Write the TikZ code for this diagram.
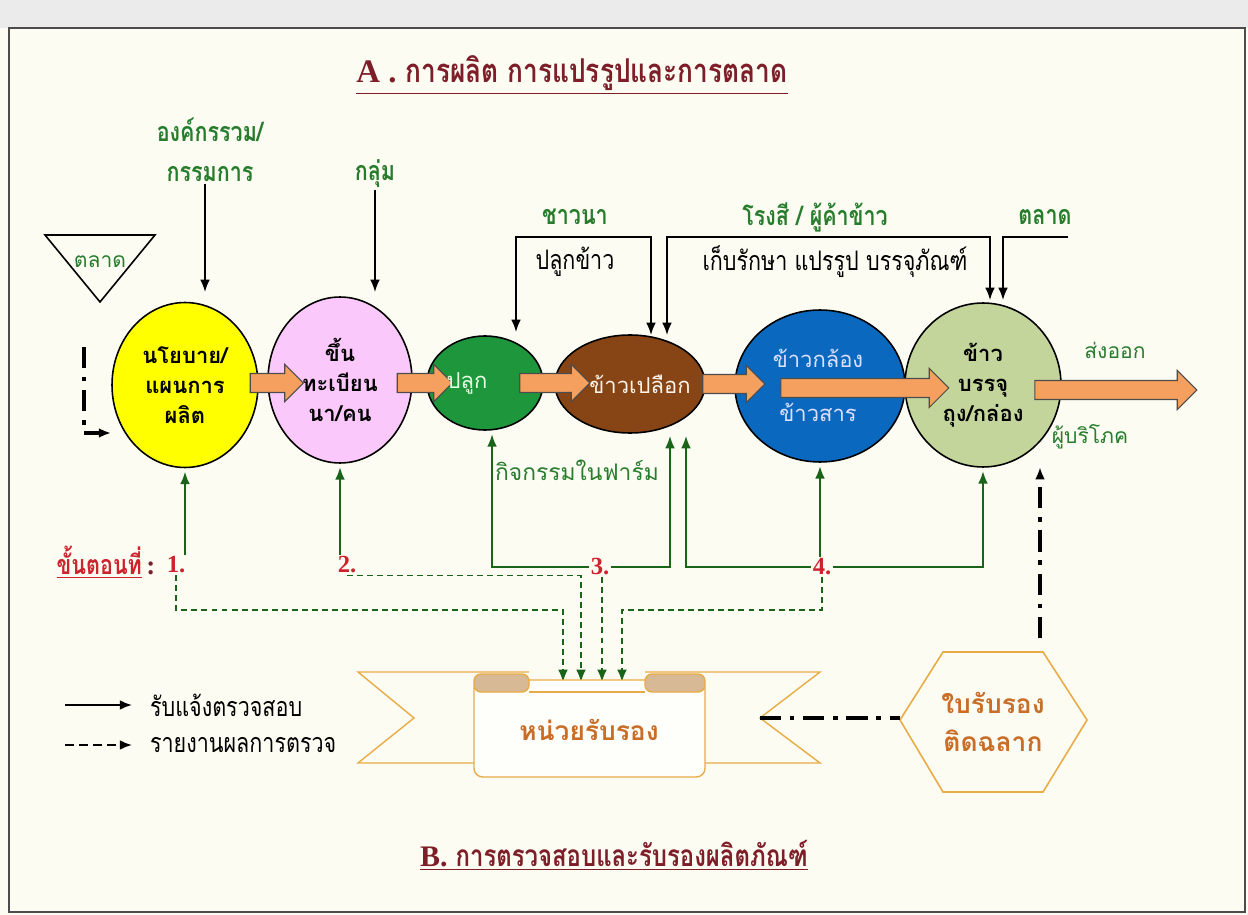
\documentclass[tikz,border=0pt]{standalone}
\usepackage{fontspec}
\setmainfont{Liberation Serif}
\newfontfamily\thaifont[Script=Thai]{Loma}
\newfontfamily\thaicond[Script=Thai,FakeStretch=0.8]{Loma}
\usetikzlibrary{arrows.meta,shapes.geometric,shapes.arrows,positioning,calc}

\definecolor{paper}{RGB}{252,252,243}
\definecolor{labgreen}{RGB}{40,125,45}
\definecolor{stepgreen}{RGB}{25,100,25}
\definecolor{stepred}{RGB}{205,35,45}
\definecolor{titlered}{RGB}{125,30,40}
\definecolor{arrorange}{RGB}{245,160,95}
\definecolor{polyellow}{RGB}{255,255,0}
\definecolor{regpink}{RGB}{250,200,250}
\definecolor{plantgreen}{RGB}{30,150,60}
\definecolor{paddybrown}{RGB}{135,68,20}
\definecolor{millblue}{RGB}{10,105,190}
\definecolor{packkhaki}{RGB}{195,213,155}
\definecolor{certorange}{RGB}{200,110,40}
\definecolor{bannerline}{RGB}{232,172,70}
\definecolor{curltan}{RGB}{215,185,150}

\begin{document}
\begin{tikzpicture}[x=0.02cm,y=-0.02cm,>={Latex[length=7pt,width=5.5pt]},
  lbl/.style={text=labgreen,inner sep=1pt,font=\thaicond\bfseries\fontsize{15.3}{17}\selectfont},
  note/.style={text=black,inner sep=1pt,font=\thaicond\fontsize{15.3}{17}\selectfont},
  side/.style={text=labgreen,inner sep=1pt,font=\thaifont\fontsize{12}{14}\selectfont},
  stage/.style={ellipse,draw=black,line width=0.9pt,inner sep=0pt,align=center,
    font=\thaifont\bfseries\fontsize{12.5}{17}\selectfont},
  inner/.style={inner sep=1pt,font=\thaifont\fontsize{12.5}{14}\selectfont},
  fat/.style={single arrow,draw=black!70,fill=arrorange,line width=0.6pt,inner sep=0pt,
    single arrow head extend=#1},
  num/.style={text=stepred,inner sep=1pt,font=\bfseries\fontsize{14}{16}\selectfont},
  feed/.style={->,draw=stepgreen,line width=0.9pt},
  report/.style={->,draw=stepgreen,line width=0.9pt,dash pattern=on 3.4pt off 2.3pt},
  dashdot/.style={line width=2.6pt,dash pattern=on 12pt off 5pt on 2.6pt off 5pt},
  flap/.style={draw=bannerline,fill=paper,line width=0.8pt},
  title/.style={text=titlered,inner sep=1pt,font=\thaicond\bfseries\fontsize{18.7}{21}\selectfont}]

\fill[paper] (0,0) rectangle (1248,915);
\fill[black!8] (0,0) rectangle (1248,28);
\draw[black!70,line width=1.2pt] (9,28) rectangle (1245,912);
\useasboundingbox (0,0) rectangle (1248,915);

% titles
\node[title] (ttlA) at (572,75) {\underline{{\rmfamily A .} การผลิต การแปรรูปและการตลาด}};
\node[title,font=\thaicond\bfseries\fontsize{17}{19}\selectfont] (ttlB) at (614,855) {\underline{{\rmfamily B.} การตรวจสอบและรับรองผลิตภัณฑ์}};

% top labels
\node[lbl] (orgA) at (210,130) {องค์กรรวม/};
\node[lbl] (orgB) at (210,174) {กรรมการ};
\node[lbl] (grp) at (375,174) {กลุ่ม};
\coordinate (orgEnd) at (205,292);
\coordinate (grpEnd) at (375,292);
\draw[->,line width=0.9pt] (orgB.south -| orgEnd) -- (orgEnd);
\draw[->,line width=0.9pt] (grp.south) -- (grpEnd);

\draw[line width=0.9pt] (45,235) -- (155,235) -- (100,302) -- cycle;
\node[side] (mktL) at (100,262) {ตลาด};

% stages
\node[stage,fill=polyellow,minimum width=2.92cm,minimum height=3.3cm] (pol) at (185,385) {นโยบาย/\\แผนการ\\ผลิต};
\node[stage,fill=regpink,minimum width=2.88cm,minimum height=3.32cm] (reg) at (340,380) {ขึ้น\\ทะเบียน\\นา/คน};
\node[stage,fill=plantgreen,minimum width=2.32cm,minimum height=1.88cm] (plant) at (485,383) {};
\node[stage,fill=paddybrown,minimum width=3cm,minimum height=1.96cm] (paddy) at (630,384) {};
\node[stage,fill=millblue,minimum width=3.4cm,minimum height=3.04cm] (mill) at (820,386) {};
\node[stage,fill=packkhaki,minimum width=3.12cm,minimum height=3.28cm] (pack) at (983,385) {ข้าว\\บรรจุ\\ถุง/กล่อง};

\node[fat=0.18cm,minimum height=1.06cm] (fa1) at (272,383) {\rule{0pt}{0.36cm}};
\node[fat=0.18cm,minimum height=1.1cm] (fa2) at (420,383) {\rule{0pt}{0.36cm}};
\node[fat=0.18cm,minimum height=1.4cm] (fa3) at (550,383) {\rule{0pt}{0.36cm}};
\node[fat=0.18cm,minimum height=1.24cm] (fa4) at (729,384) {\rule{0pt}{0.36cm}};
\node[fat=0.2cm,minimum height=3.36cm] (fa5) at (860,388) {\rule{0pt}{0.36cm}};
\node[fat=0.2cm,minimum height=3.24cm] (fa6) at (1111,390) {\rule{0pt}{0.36cm}};

\node[inner,text=green!10!white] (plantT) at (467,383) {ปลูก};
\node[inner,text=orange!8!white] (paddyT) at (640,384) {ข้าวเปลือก};
\node[inner,text=blue!12!white] (millA) at (818,358) {ข้าวกล้อง};
\node[inner,text=blue!12!white] (millB) at (818,412) {ข้าวสาร};

\draw[->,dashdot] (84,347) |- (pol.west |- 0,433);

\node[side] (export) at (1115,350) {ส่งออก};
\node[side] (cons) at (1090,437) {ผู้บริโภค};

% suppliers above
\node[lbl] (farmer) at (575,217) {ชาวนา};
\node[note] (grow) at (575,262) {ปลูกข้าว};
\node[lbl] (miller) at (815,217) {โรงสี / ผู้ค้าข้าว};
\node[note] (store) at (835,262) {เก็บรักษา แปรรูป บรรจุภัณฑ์};
\node[lbl] (mkt) at (1045,217) {ตลาด};
\coordinate (growL) at (516,332);
\coordinate (growTL) at (516,237);
\coordinate (growR) at (651,335);
\coordinate (storeL) at (667,335);
\coordinate (storeTL) at (667,237);
\coordinate (storeR) at (990,300);
\coordinate (mktTR) at (1068,237);
\coordinate (mktEnd) at (1003,300);
\draw[<->,line width=0.9pt] (growL) -- (growTL) -| (growR);
\draw[<->,line width=0.9pt] (storeL) -- (storeTL) -| (storeR);
\draw[->,line width=0.9pt] (mktTR) -| (mktEnd);

% steps
\node[text=stepred,inner sep=1pt,font=\thaicond\bfseries\fontsize{15.3}{17}\selectfont] (stepT) at (106,562) {\underline{ขั้นตอนที่}\textcolor{titlered}{\rmfamily\,:}};
\node[num] (n1) at (176,565) {1.};
\node[num] (n2) at (347,565) {2.};
\node[num] (n3) at (600,567) {3.};
\node[num] (n4) at (822,567) {4.};
\node[side,font=\thaifont\fontsize{13}{15}\selectfont] (farm) at (577,470) {กิจกรรมในฟาร์ม};
\coordinate (paddyIn1) at (670,436);
\coordinate (paddyIn2) at (686,436);

\draw[feed] (pol.south |- n1.north) -- ([yshift=-2pt]pol.south);
\draw[feed] (reg.south |- n2.north) -- ([yshift=-2pt]reg.south);
\draw[feed] (n3.west) -| ([xshift=4pt,yshift=-2pt]plant.south);
\draw[feed] (n3.east) -| (paddyIn1);
\draw[feed] (n4.west) -| (paddyIn2);
\draw[feed] (mill.south |- n4.north) -- ([yshift=-2pt]mill.south);
\draw[feed] (n4.east) -| ([yshift=-2pt]pack.south);

% certification
\coordinate (in1) at (563,682);
\coordinate (in2) at (581,682);
\coordinate (in3) at (602,682);
\coordinate (in4) at (622,682);
\draw[report] (n1.south) |- ($(in1)+(0,-72)$) -- (in1);
\draw[report] (n2.south) -| (in2);
\draw[report] (n3.south -| in3) -- (in3);
\draw[report] (n4.south) |- ($(in4)+(0,-72)$) -- (in4);

\draw[flap] (529,672) -- (358,672) -- (414,718) -- (358,763) -- (480,763);
\draw[flap] (645,672) -- (820,672) -- (760,718) -- (820,763) -- (700,763);
\draw[draw=bannerline,fill=white!60!paper,line width=0.8pt,rounded corners=5pt] (474,680) rectangle (705,777);
\draw[draw=bannerline,fill=curltan,line width=0.8pt,rounded corners=4pt] (474,674) rectangle (529,692);
\draw[draw=bannerline,fill=curltan,line width=0.8pt,rounded corners=4pt] (645,674) rectangle (705,692);
\draw[bannerline,line width=0.8pt] (529,692) -- (645,692);
\node[text=certorange,inner sep=1pt,font=\thaifont\bfseries\fontsize{15}{17}\selectfont] (cb) at (589,730) {หน่วยรับรอง};

\draw[draw=bannerline,fill=paper,line width=0.9pt] (900,720) -- (943,652) -- (1043,652) -- (1087,720) -- (1043,792) -- (943,792) -- cycle;
\node[text=certorange,inner sep=1pt,align=center,font=\thaifont\bfseries\fontsize{15}{22}\selectfont] (cert) at (993,722) {ใบรับรอง\\ติดฉลาก};
\coordinate (bannerR) at (760,718);
\coordinate (hexL) at (900,718);
\coordinate (hexT) at (1040,638);
\coordinate (consIn) at (1040,467);
\draw[dashdot] (bannerR) -- (hexL);
\draw[dashdot,->] (hexT) -- (consIn);

% legend
\node[note,anchor=west] (legA) at (148,705) {รับแจ้งตรวจสอบ};
\node[note,anchor=west] (legB) at (148,745) {รายงานผลการตรวจ};
\coordinate (legAs) at (65,705);
\coordinate (legBs) at (65,745);
\draw[->,line width=1.2pt,shorten >=9pt] (legAs) -- (legA.west);
\draw[->,line width=1.2pt,shorten >=9pt,dash pattern=on 5pt off 3pt] (legBs) -- (legB.west);

\end{tikzpicture}
\end{document}
